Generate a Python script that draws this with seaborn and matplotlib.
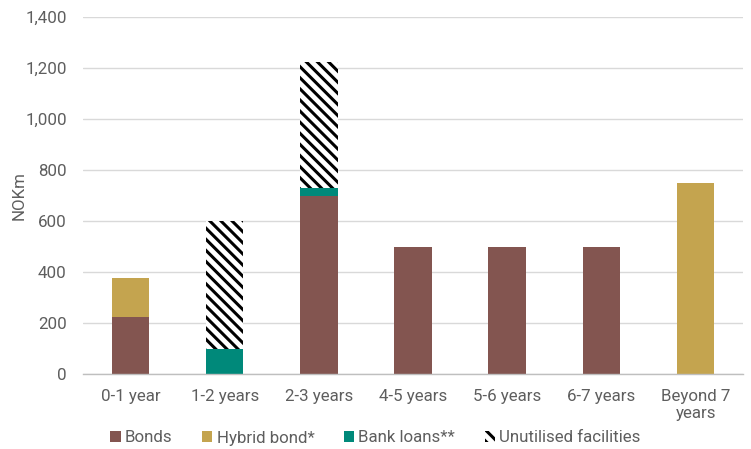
import matplotlib
matplotlib.use("Agg")
import matplotlib.pyplot as plt
import matplotlib.patches as mpatches
import numpy as np
import pandas as pd
import seaborn as sns

categories = ["0-1 year", "1-2 years", "2-3 years", "4-5 years",
              "5-6 years", "6-7 years", "Beyond 7\nyears"]
bonds = [225, 0, 700, 500, 500, 500, 0]
hybrid_bond = [150, 0, 0, 0, 0, 0, 750]
bank_loans = [0, 100, 30, 0, 0, 0, 0]
unutilised = [0, 500, 495, 0, 0, 0, 0]

series_names = ["Bonds", "Hybrid bond*", "Bank loans**", "Unutilised facilities"]
colors = {"Bonds": "#835550", "Hybrid bond*": "#C4A44F",
          "Bank loans**": "#00897A", "Unutilised facilities": "white"}

sns.set_theme(style="white")
plt.rcParams["font.family"] = ["Roboto", "DejaVu Sans"]
plt.rcParams["hatch.linewidth"] = 2.2
plt.rcParams["hatch.color"] = "black"

text_color = "#5E5E5E"
fs = 12.2

df = pd.DataFrame({"category": categories, "Bonds": bonds,
                   "Hybrid bond*": hybrid_bond, "Bank loans**": bank_loans,
                   "Unutilised facilities": unutilised})
# cumulative tops for stacking
cum = df[series_names].cumsum(axis=1)

fig = plt.figure(figsize=(7.51, 4.49), dpi=100)
ax = fig.add_axes([0.111, 0.167, 0.878, 0.795])

# draw from the top of the stack down so lower segments cover upper ones
for name in reversed(series_names):
    seg = pd.DataFrame({"category": categories, "value": cum[name]})
    kw = dict(color=colors[name], linewidth=0)
    if name == "Unutilised facilities":
        kw.update(hatch="\\\\\\", edgecolor="black")
    sns.barplot(data=seg, x="category", y="value", ax=ax, width=0.4,
                saturation=1, **kw)

ax.set_ylim(0, 1400)
ax.set_yticks(np.arange(0, 1401, 200))
ax.set_yticklabels([f"{v:,}" for v in range(0, 1401, 200)])
ax.set_xlim(-0.5, len(categories) - 0.5)
ax.yaxis.grid(True, color="#D9D9D9", linewidth=1)
ax.set_axisbelow(True)
for s in ["top", "right", "left"]:
    ax.spines[s].set_visible(False)
ax.spines["bottom"].set_color("#BFBFBF")
ax.spines["bottom"].set_linewidth(1)

ax.set_xticks(np.arange(-0.5, len(categories), 1.0), minor=True)
ax.tick_params(axis="x", which="minor", length=5, color="#BFBFBF", width=1)
ax.tick_params(axis="x", which="major", length=0, pad=10.5, labelsize=fs,
               labelcolor=text_color)
ax.tick_params(axis="y", length=0, labelsize=fs, labelcolor=text_color, pad=12)
ax.set_xlabel("")
ax.set_ylabel("NOKm", fontsize=fs, color=text_color)
ax.yaxis.set_label_coords(-0.086, 0.5)

handles = [mpatches.Patch(facecolor=colors[n], edgecolor="black" if n == "Unutilised facilities" else colors[n],
                          hatch="\\\\\\" if n == "Unutilised facilities" else None,
                          linewidth=0, label=n) for n in series_names]
fig.legend(handles=handles, loc="center", bbox_to_anchor=(0.5, 1 - 438 / 449),
           ncol=4, frameon=False, fontsize=fs, labelcolor=text_color,
           handlelength=0.6, handleheight=0.6, handletextpad=0.25,
           columnspacing=1.75, borderpad=0, borderaxespad=0)

fig.savefig("out.png", dpi=100)
